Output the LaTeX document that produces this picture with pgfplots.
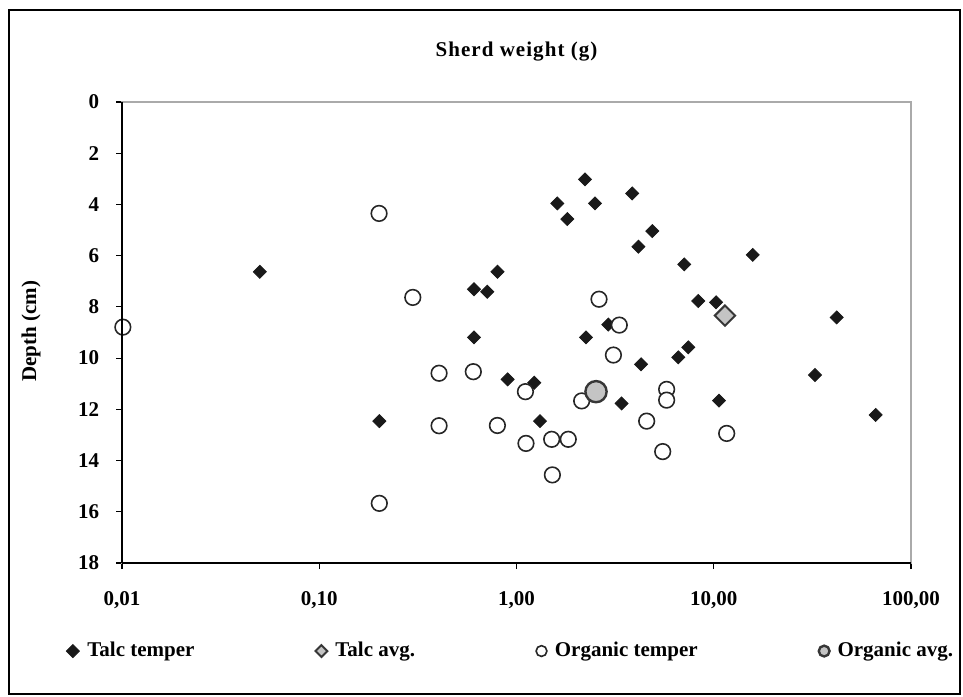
\documentclass[border=0pt]{standalone}
\usepackage{fontspec}
\setmainfont{Liberation Serif}
\newfontfamily\spacedfont{Liberation Serif}[LetterSpace=5]
\usepackage{pgfplots}
\usepackage{pgfplotstable}
\pgfplotsset{compat=1.18}

\definecolor{avggray}{RGB}{196,196,196}
\definecolor{edgegray}{RGB}{55,55,55}
\definecolor{framegray}{RGB}{170,170,170}
\newcommand{\chartfont}{\fontsize{10.5}{12}\selectfont\bfseries}

% weight (g), depth (cm)
\pgfplotstableread{
w d
0.050 6.63
0.609 7.31
0.711 7.41
0.801 6.63
0.609 9.19
2.225 3.02
1.61 3.96
2.50 3.96
3.86 3.57
1.81 4.57
4.88 5.04
4.15 5.65
7.09 6.34
15.76 5.97
8.35 7.77
10.27 7.82
42.0 8.41
2.92 8.69
2.25 9.19
7.43 9.58
4.28 10.24
6.61 9.97
32.6 10.66
66.2 12.22
0.902 10.83
1.23 10.96
3.41 11.77
10.63 11.66
1.316 12.46
0.2016 12.46
}\talc

\pgfplotstableread{
w d
0.0101 8.79
0.201 4.35
0.298 7.63
2.62 7.70
3.32 8.71
3.10 9.88
1.11 11.31
2.14 11.67
5.77 11.22
5.77 11.64
0.80 12.63
4.57 12.46
11.63 12.94
1.117 13.33
1.508 13.17
1.83 13.17
5.51 13.65
1.52 14.56
0.405 10.59
0.604 10.53
0.405 12.64
0.2016 15.67
}\organic

\begin{document}
\begin{tikzpicture}[x=0.5pt,y=0.5pt]
\path[use as bounding box] (-122,-133) rectangle (841,563);
\draw[line width=0.9pt] (-113,-131) rectangle (838,553);
\begin{axis}[
  at={(0,0)}, anchor=south west,
  scale only axis, width=394.5pt, height=230.5pt,
  xmode=log, xmin=0.01, xmax=100,
  xtick={0.01,0.1,1,10,100},
  xticklabels={{0,01},{0,10},{1,00},{10,00},{100,00}},
  xminorticks=false,
  y dir=reverse, ymin=0, ymax=18,
  ytick={0,2,...,18},
  /pgf/number format/assume math mode=true,
  tick align=outside, tick pos=left,
  major tick length=3pt,
  tick style={black, line width=0.6pt},
  axis line style={framegray, line width=0.8pt},
  xticklabel style={font=\chartfont, anchor=base, inner sep=0pt, yshift=-18pt},
  yticklabel style={font=\chartfont, anchor=east, inner sep=0pt, xshift=-8.25pt},
  title={Sherd weight (g)},
  title style={font=\chartfont\spacedfont\bfseries, at={(0.5,1.0716)}, anchor=base},
  ylabel={Depth (cm)},
  ylabel style={font=\chartfont, at={(axis description cs:-0.1153,0.503)}, anchor=center},
  legend columns=4,
  legend style={at={(axis description cs:-0.071,-0.191)}, anchor=west,
    draw=none, fill=none, inner sep=0pt, font=\chartfont,
    nodes={inner xsep=1.5pt},
    /tikz/every odd column/.append style={column sep=2.5pt},
    /tikz/every even column/.append style={column sep=59pt}},
  legend image code/.code={\draw[#1] plot coordinates {(0pt,0pt)};},
  after end axis/.code={
    \draw[black, line width=0.7pt] (axis description cs:0,0) -- (axis description cs:0,1);
    \draw[black, line width=0.7pt] (axis description cs:0,0) -- (axis description cs:1,0);
  },
]
\addplot[only marks, mark=square*, mark size=2.3pt,
  mark options={rotate=45, fill=black!90, draw=black!90}]
  table[x=w, y=d] {\talc};
\addlegendentry{Talc temper}
\addplot[only marks, mark=square*, mark size=3.6pt,
  mark options={rotate=45, fill=avggray, draw=edgegray, line width=1pt},
  legend image post style={mark size=2.1pt}]
  coordinates {(11.4,8.34)};
\addlegendentry{Talc avg.}
\addplot[only marks, mark=*, mark size=3.9pt,
  mark options={fill=white, draw=black!85, line width=0.8pt},
  legend image post style={mark size=2.7pt}]
  table[x=w, y=d] {\organic};
\addlegendentry{Organic temper}
\addplot[only marks, mark=*, mark size=5.3pt,
  mark options={fill=avggray, draw=edgegray, line width=1.2pt},
  legend image post style={mark size=2.7pt}]
  coordinates {(2.53,11.31)};
\addlegendentry{Organic avg.}
\end{axis}
\end{tikzpicture}
\end{document}
